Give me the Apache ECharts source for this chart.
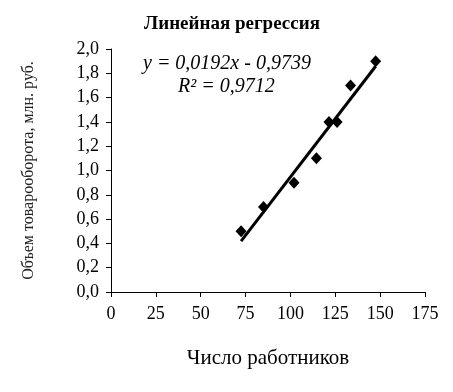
<!DOCTYPE html>
<html><head><meta charset="utf-8">
<script src="https://cdn.jsdelivr.net/npm/echarts@6/dist/echarts.min.js"></script>
<style>html,body{margin:0;padding:0;background:#fff}#c{width:453px;height:392px}</style>
</head><body><div id="c"></div>
<script>
const workers = [72.5, 85, 102, 114.5, 121.5, 126, 133.5, 147.5];
const turnover = [0.5, 0.7, 0.9, 1.1, 1.4, 1.4, 1.7, 1.9];
const slope = 0.0192, intercept = -0.9739, r2 = 0.9712;
const fmt = v => v.toFixed(1).replace('.', ',');
const xs = [Math.min(...workers), Math.max(...workers)];
const trend = xs.map(x => [x, slope * x + intercept]);
const font = '"Liberation Serif", "Times New Roman", serif';
const chart = echarts.init(document.getElementById('c'));
chart.setOption({
  animation: false,
  textStyle: { fontFamily: font, color: '#000' },
  title: { text: 'Линейная регрессия', left: 227, top: 10, textAlign: 'center',
    textStyle: { fontFamily: font, fontSize: 19, fontWeight: 'bold', color: '#000' } },
  grid: { left: 111, right: 28, top: 49, bottom: 100 },
  xAxis: { type: 'value', min: 0, max: 175, interval: 25,
    name: 'Число работников', nameLocation: 'middle', nameGap: 56,
    nameTextStyle: { fontFamily: font, fontSize: 21, color: '#000' },
    axisLine: { lineStyle: { color: '#000', width: 1 } },
    axisTick: { show: true, length: 5, lineStyle: { color: '#000' } },
    axisLabel: { fontFamily: font, fontSize: 18, color: '#000', margin: 13 },
    splitLine: { show: false } },
  yAxis: { type: 'value', min: 0, max: 2, interval: 0.2,
    name: 'Объем товарооборота, млн. руб.', nameLocation: 'middle', nameGap: 74,
    nameTextStyle: { fontFamily: font, fontSize: 16, color: '#222' },
    axisLine: { show: true, lineStyle: { color: '#000', width: 1 } },
    axisTick: { show: true, length: 5, lineStyle: { color: '#000' } },
    axisLabel: { fontFamily: font, fontSize: 18, color: '#000', margin: 12, formatter: fmt },
    splitLine: { show: false } },
  series: [
    { type: 'line', data: trend, symbol: 'none', lineStyle: { color: '#000', width: 3 }, z: 2, silent: true },
    { type: 'scatter', data: workers.map((x, i) => [x, turnover[i]]), symbol: 'diamond', symbolSize: [11, 12],
      itemStyle: { color: '#000', opacity: 1 }, z: 3 }
  ],
  graphic: [
    { type: 'text', left: 143, top: 54, style: { text: 'y = 0,0192x - 0,9739', font: 'italic 20px ' + font, fill: '#000' } },
    { type: 'text', left: 178, top: 77, style: { text: 'R² = ' + r2.toFixed(4).replace('.', ','), font: 'italic 20px ' + font, fill: '#000' } }
  ]
});
</script></body></html>
